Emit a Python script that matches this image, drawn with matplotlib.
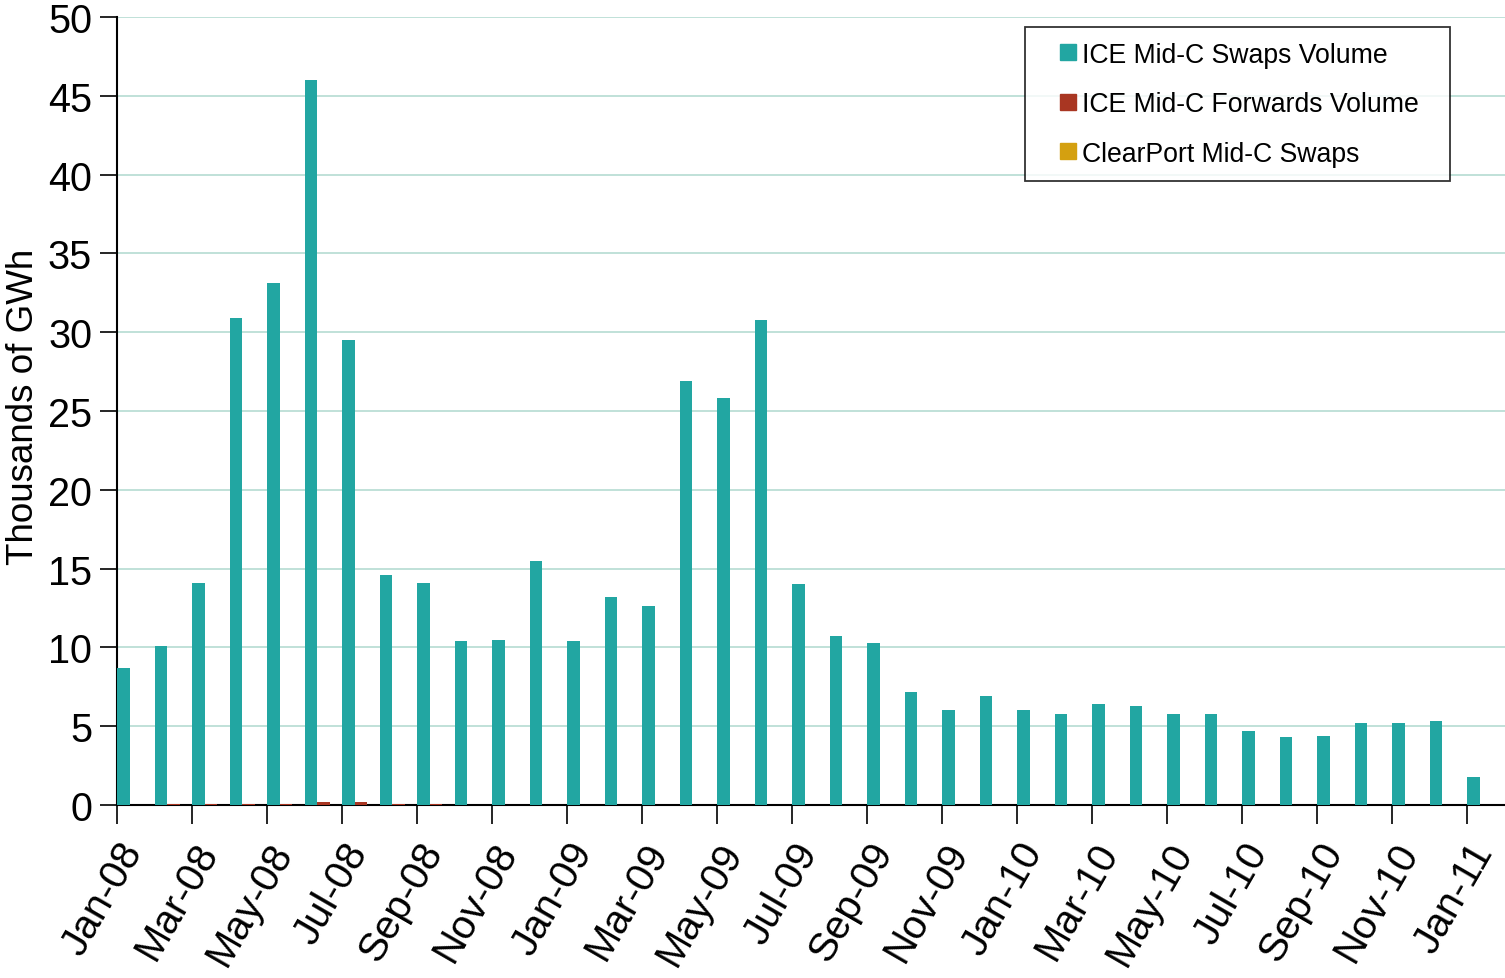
import matplotlib
matplotlib.use("Agg")
import matplotlib.pyplot as plt
from matplotlib.lines import Line2D
import numpy as np

plt.rcParams["font.family"] = ["Liberation Sans", "DejaVu Sans"]

months = ["Jan-08", "Feb-08", "Mar-08", "Apr-08", "May-08", "Jun-08", "Jul-08", "Aug-08",
          "Sep-08", "Oct-08", "Nov-08", "Dec-08", "Jan-09", "Feb-09", "Mar-09", "Apr-09",
          "May-09", "Jun-09", "Jul-09", "Aug-09", "Sep-09", "Oct-09", "Nov-09", "Dec-09",
          "Jan-10", "Feb-10", "Mar-10", "Apr-10", "May-10", "Jun-10", "Jul-10", "Aug-10",
          "Sep-10", "Oct-10", "Nov-10", "Dec-10", "Jan-11"]
ice_swaps = [8.7, 10.1, 14.1, 30.9, 33.1, 46.0, 29.5, 14.6, 14.1, 10.4, 10.5, 15.5,
             10.4, 13.2, 12.6, 26.9, 25.8, 30.8, 14.0, 10.7, 10.3, 7.2, 6.0, 6.9,
             6.0, 5.8, 6.4, 6.3, 5.8, 5.8, 4.7, 4.3, 4.4, 5.2, 5.2, 5.3, 1.8]
ice_forwards = [0, 0.08, 0.08, 0.08, 0.08, 0.2, 0.2, 0.08, 0.08, 0, 0, 0,
                0, 0, 0, 0, 0, 0, 0, 0, 0, 0, 0, 0,
                0, 0, 0, 0, 0, 0, 0, 0, 0, 0, 0, 0, 0]
clearport = [0] * len(months)

series = [("ICE Mid-C Swaps Volume", ice_swaps, "#22a6a2"),
          ("ICE Mid-C Forwards Volume", ice_forwards, "#a93622"),
          ("ClearPort Mid-C Swaps", clearport, "#d4a010")]

fig = plt.figure(figsize=(15.05, 9.79), dpi=100)
ax = fig.add_axes([117 / 1505, 1 - 806 / 979, 1 - 117 / 1505, (806 - 18) / 979])

x = np.arange(len(months))
w = 1 / 3
for k, (name, vals, col) in enumerate(series):
    ax.bar(x + k * w, vals, width=w, align="edge", color=col, zorder=3)

ax.set_xlim(0, len(months))
ax.set_ylim(0, 50)
ax.set_yticks(np.arange(0, 51, 5))
ax.yaxis.grid(True, color="#b5dcd2", lw=1.2, zorder=0)
ax.tick_params(axis="y", labelsize=28.5, length=12, width=1.2, direction="out", pad=6)
ax.set_xticks(x[::2])
ax.set_xticklabels(months[::2], rotation=60, ha="right", va="top",
                   rotation_mode="anchor", fontsize=29)
ax.tick_params(axis="x", length=14, width=1.2, direction="out", pad=8)
for s in ("top", "right"):
    ax.spines[s].set_visible(False)
for s in ("left", "bottom"):
    ax.spines[s].set_linewidth(1.5)
ax.set_ylabel("Thousands of GWh", fontsize=26.5)
ax.yaxis.set_label_coords((41 - 117) / 1388, (806 - 407) / 788)

handles = [Line2D([], [], ls="none", marker="s", ms=11.5, mfc=col, mec=col)
           for _, _, col in series]
leg = ax.legend(handles, [s[0] for s in series], loc="upper left",
                bbox_to_anchor=((1025 - 117) / 1388, (806 - 28) / 788, 425 / 1388, 0),
                mode="expand", fontsize=19.2, frameon=True, fancybox=False,
                edgecolor="black", handlelength=2.1, handletextpad=-0.5,
                labelspacing=0.88, borderpad=0.55, borderaxespad=0)
leg.get_frame().set_linewidth(1.3)

fig.savefig("out.png", dpi=100)
